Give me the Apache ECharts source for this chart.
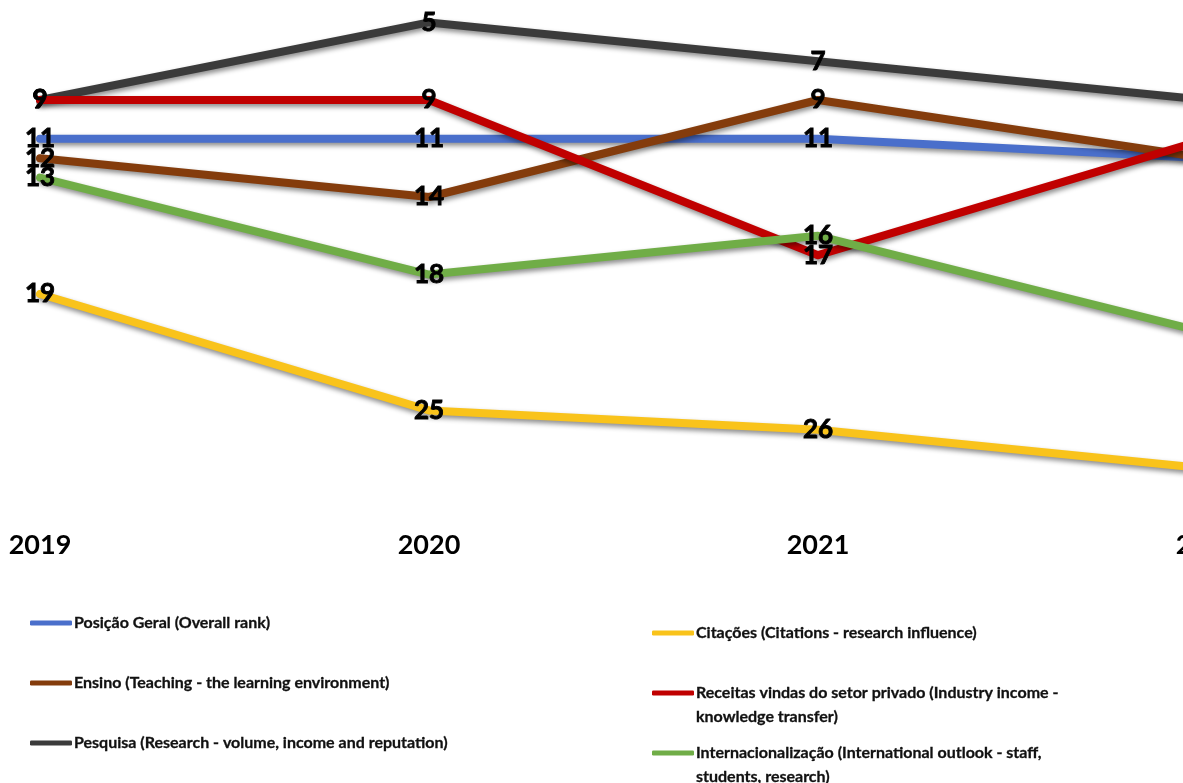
<!DOCTYPE html>
<html>
<head>
<meta charset="utf-8">
<script src="https://cdn.jsdelivr.net/npm/echarts@6/dist/echarts.min.js"></script>
<style>
html,body{margin:0;padding:0;background:#fff;overflow:hidden;width:1183px;height:783px;}
#chart{width:1250px;height:783px;}
</style>
</head>
<body>
<div id="chart"></div>
<script>
const years = ['2019', '2020', '2021', '2022'];
const overallRank = [11, 11, 11, 12];
const teaching = [12, 14, 9, 12];
const research = [9, 5, 7, 9];
const citations = [19, 25, 26, 28];
const industryIncome = [9, 9, 17, 11];
const internationalOutlook = [13, 18, 16, 21];

const names = [
  'Posição Geral (Overall rank)',
  'Ensino (Teaching - the learning environment)',
  'Pesquisa (Research - volume, income and reputation)',
  'Citações (Citations - research influence)',
  'Receitas vindas do setor privado (Industry income - knowledge transfer)',
  'Internacionalização (International outlook - staff, students, research)'
];
const legendText = [
  names[0], names[1], names[2], names[3],
  '\nReceitas vindas do setor privado (Industry income -\nknowledge transfer)',
  '\nInternacionalização (International outlook - staff,\nstudents, research)'
];
const colors = ['#4A6FCB', '#843C0C', '#3B3B3B', '#F9C31B', '#C00000', '#70AD47'];
const values = [overallRank, teaching, research, citations, industryIncome, internationalOutlook];

const FONT = 'Lato';
const series = values.map((v, i) => ({
  name: names[i],
  type: 'line',
  data: v,
  symbol: 'circle',
  symbolSize: 7,
  itemStyle: { color: colors[i] },
  lineStyle: {
    color: colors[i], width: 8, cap: 'round', join: 'round',
    shadowColor: 'rgba(0,0,0,0.45)', shadowBlur: 5, shadowOffsetX: 1, shadowOffsetY: 3
  },
  label: {
    show: true, position: 'inside', color: '#000',
    fontFamily: FONT, fontWeight: 'bold', fontSize: 26,
    textBorderColor: '#000', textBorderWidth: 0.9
  },
  emphasis: { disabled: true },
  animation: false,
  z: 2 + i
}));

const legendPos = [
  { left: 30, top: 611 },
  { left: 30, top: 671 },
  { left: 30, top: 731 },
  { left: 652, top: 621 },
  { left: 652, top: 657 },
  { left: 652, top: 717 }
];
const legends = names.map((n, i) => ({
  data: [n],
  left: legendPos[i].left,
  top: legendPos[i].top,
  padding: 0,
  icon: 'roundRect',
  itemWidth: 42,
  itemHeight: 5,
  selectedMode: false,
  formatter: () => legendText[i],
  textStyle: {
    fontFamily: FONT, fontWeight: 'bold', fontSize: 16, color: '#111',
    textBorderColor: '#111', textBorderWidth: 0.3,
    lineHeight: 24, padding: [0, 0, 0, -3]
  }
}));

const chart = echarts.init(document.getElementById('chart'), null, { renderer: 'canvas' });
chart.setOption({
  backgroundColor: '#fff',
  animation: false,
  color: colors,
  legend: legends,
  grid: { left: 40, right: 43, top: 3, bottom: 295, containLabel: false },
  xAxis: {
    type: 'category',
    data: years,
    boundaryGap: false,
    axisLine: { show: false },
    axisTick: { show: false },
    splitLine: { show: false },
    axisLabel: {
      color: '#000', fontFamily: FONT, fontWeight: 'bold', fontSize: 27, margin: 44
    }
  },
  yAxis: {
    type: 'value',
    inverse: true,
    min: 4,
    max: 29,
    show: false,
    splitLine: { show: false }
  },
  series: series
});
</script>
</body>
</html>
